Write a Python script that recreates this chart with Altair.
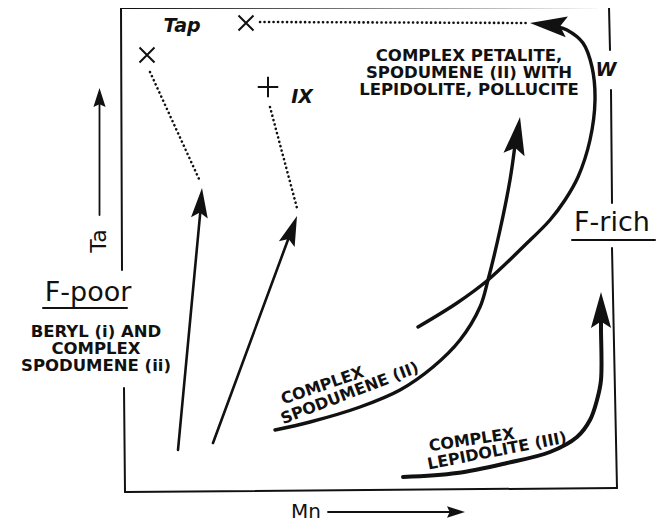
import altair as alt
import pandas as pd

# ---------------- data (Mn, Ta in diagram units; frame spans 0..~490) ----------------
# frame edges (with gaps for labels)
frame_mn = [[0, 488], [0, 1], [3, 4], [4, 496], [488, 489], [490, 491], [491, 496]]
frame_ta = [[484, 485], [484, 222], [104, 0], [0, 4], [485, 442], [402, 289], [244, 4]]
# underlines of F-poor / F-rich
under_mn = [[-78, 6], [451, 534]]
under_ta = [[184, 184], [252, 252]]

# trends
spod_mn = [154, 189, 239, 279, 312, 339, 359, 367, 379, 389, 394]
spod_ta = [62, 70, 85, 102, 125, 152, 185, 212, 262, 312, 347]
w_mn = [297, 336, 367, 402, 429, 444, 457, 469, 474, 471, 462, 446, 437]
w_ta = [165, 189, 212, 245, 272, 292, 315, 352, 392, 425, 449, 462, 465]
lep_mn = [282, 336, 386, 429, 456, 469, 476, 480, 480, 480]
lep_ta = [15, 19, 29, 40, 55, 72, 92, 112, 162, 172]
beryl1_mn = [57, 79.5]
beryl1_ta = [42, 282]
beryl2_mn = [92, 168]
beryl2_ta = [49, 255]
ta_axis_mn = [-21.5, -21.5]
ta_axis_ta = [277, 390]
mn_axis_mn = [207, 330]
mn_axis_ta = [-20, -20]

# dotted extensions
dot_mn = [[29, 78], [149, 176], [139, 406]]
dot_ta = [[420, 313], [385, 284], [470, 469]]

# arrow heads: tip position, direction (deg), length
head_mn = [81, 176, 399, 409, 480]
head_ta = [304, 276, 375, 469, 200]
head_ang = [5, 20, 9, 276, 0]
head_len = [30, 30, 38, 37, 36]
axhead_mn = [-21.5, 344]
axhead_ta = [404, -20]
axhead_ang = [0, 90]
axhead_len = [19, 18]

# end markers
x_mn = [26, 125]
x_ta = [437, 469]
plus_mn = [147]
plus_ta = [405]

# labels
block_text = ["COMPLEX PETALITE,\nSPODUMENE (II) WITH\nLEPIDOLITE, POLLUCITE",
              "BERYL (i) AND\nCOMPLEX\nSPODUMENE (ii)"]
block_mn = [348, -25]
block_ta = [436, 160]
lab_text = ["COMPLEX", "SPODUMENE (II)", "COMPLEX", "LEPIDOLITE (III)"]
lab_mn = [201.5, 228.7, 350.7, 376]
lab_ta = [106.2, 98.7, 52, 41]
lab_ang = [341, 339, 351.5, 349]
ital_text = ["Tap", "IX", "W"]
ital_mn = [61, 181, 485]
ital_ta = [466, 395, 422]
big_text = ["F-poor", "F-rich", "Ta", "Mn"]
big_mn = [-33, 491, -22, 185]
big_ta = [199, 269, 251, -20]
big_ang = [0, 0, 270, 0]
big_size = [27, 27, 22, 20]

# ---------------- build tables ----------------
rows = []
def add_line(name, mns, tas, w):
    for i, (m, t) in enumerate(zip(mns, tas)):
        rows.append({"id": name, "o": i, "mn": m, "ta": t, "w": w})

for k, (m, t) in enumerate(zip(frame_mn, frame_ta)):
    add_line(f"frame{k}", m, t, 2)
for k, (m, t) in enumerate(zip(under_mn, under_ta)):
    add_line(f"under{k}", m, t, 2)
add_line("spod", spod_mn, spod_ta, 3.4)
add_line("w", w_mn, w_ta, 3.4)
add_line("lep", lep_mn, lep_ta, 4)
add_line("b1", beryl1_mn, beryl1_ta, 2.6)
add_line("b2", beryl2_mn, beryl2_ta, 2.6)
add_line("tax", ta_axis_mn, ta_axis_ta, 1.8)
add_line("mnx", mn_axis_mn, mn_axis_ta, 1.8)
lines = pd.DataFrame(rows)

drows = []
for k, (m, t) in enumerate(zip(dot_mn, dot_ta)):
    for i in range(2):
        drows.append({"id": f"d{k}", "o": i, "mn": m[i], "ta": t[i]})
dots = pd.DataFrame(drows)

heads = pd.DataFrame({"mn": head_mn, "ta": head_ta, "ang": head_ang,
                      "sz": [4 * L * L for L in head_len]})
axheads = pd.DataFrame({"mn": axhead_mn, "ta": axhead_ta, "ang": axhead_ang,
                        "sz": [4 * L * L for L in axhead_len]})
xs_df = pd.DataFrame({"mn": x_mn, "ta": x_ta})
plus_df = pd.DataFrame({"mn": plus_mn, "ta": plus_ta})
blocks = pd.DataFrame({"t": block_text, "mn": block_mn, "ta": block_ta})
labs = pd.DataFrame({"t": lab_text, "mn": lab_mn, "ta": lab_ta, "ang": lab_ang})
itals = pd.DataFrame({"t": ital_text, "mn": ital_mn, "ta": ital_ta})
bigs = pd.DataFrame({"t": big_text, "mn": big_mn, "ta": big_ta, "ang": big_ang, "sz": big_size})

# ---------------- chart ----------------
xsc = alt.Scale(domain=[-113, 539], nice=False, zero=False)
ysc = alt.Scale(domain=[-30, 484], nice=False, zero=False)
X = alt.X("mn:Q", scale=xsc, axis=None)
Y = alt.Y("ta:Q", scale=ysc, axis=None)
INK = "#111111"

solid = alt.Chart(lines).mark_line(color=INK, interpolate="catmull-rom", strokeCap="round").encode(
    x=X, y=Y, detail="id:N", order="o:Q", strokeWidth=alt.StrokeWidth("w:Q", scale=None))

dotted = alt.Chart(dots).mark_line(color=INK, strokeDash=[0.1, 4.4], strokeCap="round", strokeWidth=2.6).encode(
    x=X, y=Y, detail="id:N", order="o:Q")

head_shape = "M0,0L0.28,1L0,0.82L-0.28,1Z"
arrowheads = alt.Chart(heads).mark_point(shape=head_shape, filled=True, color=INK, opacity=1, strokeWidth=0).encode(
    x=X, y=Y, angle=alt.Angle("ang:Q", scale=None), size=alt.Size("sz:Q", scale=None))
ax_shape = "M0,0L0.32,1L0,0.85L-0.32,1Z"
axarrowheads = alt.Chart(axheads).mark_point(shape=ax_shape, filled=True, color=INK, opacity=1, strokeWidth=0).encode(
    x=X, y=Y, angle=alt.Angle("ang:Q", scale=None), size=alt.Size("sz:Q", scale=None))

xmarks = alt.Chart(xs_df).mark_point(shape="M-1,-1L1,1M-1,1L1,-1", filled=False, color=INK,
                                     opacity=1, strokeWidth=2, size=225).encode(x=X, y=Y)
plusmarks = alt.Chart(plus_df).mark_point(shape="M0,-1L0,1M-1,0L1,0", filled=False, color=INK,
                                          opacity=1, strokeWidth=2, size=420).encode(x=X, y=Y)

blocklabels = alt.Chart(blocks).mark_text(font="DejaVu Sans", fontWeight="bold", fontSize=16.5, color=INK,
                                          align="center", baseline="middle", lineBreak="\n",
                                          lineHeight=16.8).encode(x=X, y=Y, text="t:N")
labels = alt.Chart(labs).mark_text(font="DejaVu Sans", fontWeight="bold", fontSize=16, color=INK,
                                   align="center", baseline="middle").encode(
    x=X, y=Y, text="t:N", angle=alt.Angle("ang:Q", scale=None))
italics = alt.Chart(itals).mark_text(font="DejaVu Sans", fontWeight="bold", fontStyle="italic", fontSize=19,
                                     color=INK, align="center", baseline="middle").encode(x=X, y=Y, text="t:N")
bigtext = alt.Chart(bigs).mark_text(font="DejaVu Sans", fontSize=24, color=INK,
                                    align="center", baseline="middle").encode(
    x=X, y=Y, text="t:N", angle=alt.Angle("ang:Q", scale=None), size=alt.Size("sz:Q", scale=None))

chart = alt.layer(solid, dotted, arrowheads, axarrowheads, xmarks, plusmarks, blocklabels, labels,
                  italics, bigtext).properties(
    width=652, height=514, autosize=alt.AutoSizeParams(type="none"), padding=0,
    background="white").configure_view(stroke=None)

chart.save("out.html", embed_options={"renderer": "svg", "actions": False})
